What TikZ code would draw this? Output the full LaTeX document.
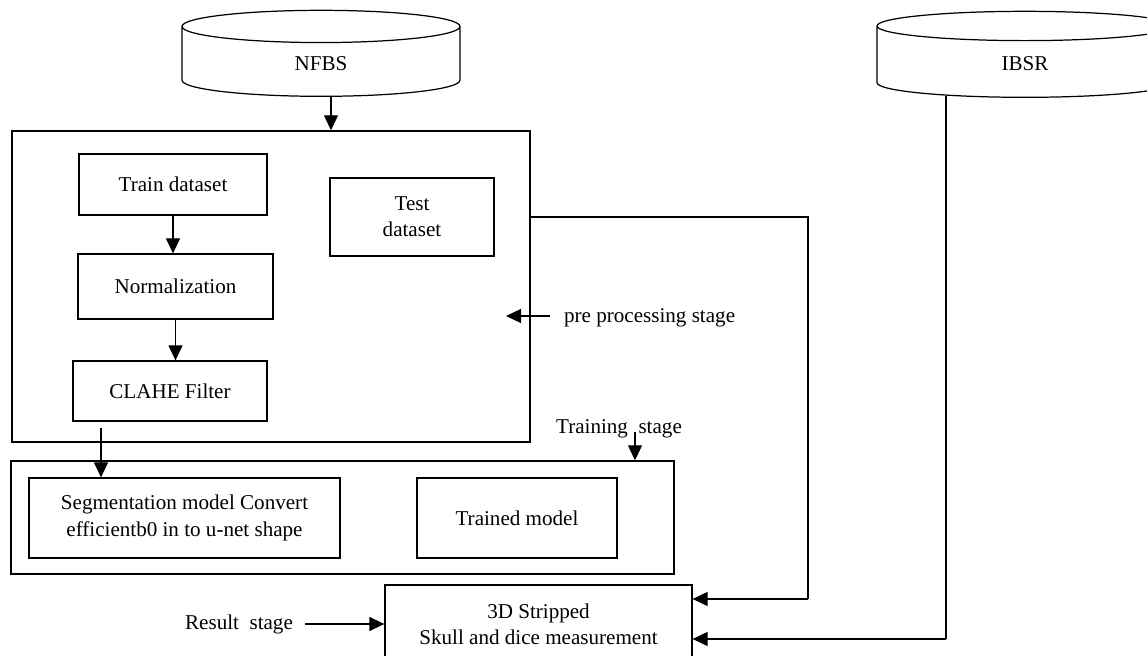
\documentclass[tikz,border=0pt]{standalone}
\usepackage{fontspec}
\setmainfont{Liberation Serif}
\usetikzlibrary{shapes.geometric, arrows.meta, positioning, calc}

\begin{document}
\begin{tikzpicture}[
    box/.style={rectangle, draw, line width=0.7pt, align=center, inner sep=2pt, font=\fontsize{12}{15}\selectfont},
    stagebox/.style={rectangle, draw, line width=0.8pt},
    dbnode/.style={cylinder, shape border rotate=90, aspect=0.5, draw, line width=0.7pt, minimum width=5.56cm, minimum height=1.72cm, font=\fontsize{12}{15}\selectfont},
    lbl/.style={font=\fontsize{12}{15}\selectfont, inner sep=1pt},
    arr/.style={-{Triangle[length=0.3cm, width=0.28cm]}, line width=0.7pt},
    wire/.style={line width=0.7pt},
]
    \clip (0,0) rectangle (22.94,13.1);

    % data sources
    \node[dbnode] (nfbs) at (6.42,11.82) {NFBS};
    \node[dbnode, minimum width=5.92cm] (ibsr) at (20.50,11.82) {IBSR};

    % pre processing stage
    \node[stagebox, minimum width=10.36cm, minimum height=6.22cm] (pre) at (5.42,7.37) {};
    \node[box, minimum width=3.76cm, minimum height=1.22cm] (train) at (3.46,9.41) {Train dataset};
    \node[box, minimum width=3.90cm, minimum height=1.30cm] (norm) at (3.51,7.37) {Normalization};
    \node[box, minimum width=3.88cm, minimum height=1.20cm] (clahe) at (3.40,5.28) {CLAHE Filter};
    \node[box, minimum width=3.28cm, minimum height=1.56cm] (test) at (8.24,8.76) {Test\\dataset};

    % training stage
    \node[stagebox, minimum width=13.26cm, minimum height=2.26cm] (trainst) at (6.85,2.75) {};
    \node[box, minimum width=6.22cm, minimum height=1.60cm] (seg) at (3.69,2.74) {Segmentation model Convert\\efficientb0 in to u-net shape};
    \node[box, minimum width=4.00cm, minimum height=1.60cm] (model) at (10.34,2.74) {Trained model};

    % result stage
    \node[box, minimum width=6.14cm, minimum height=1.58cm] (res) at (10.77,0.61) {3D Stripped\\Skull and dice measurement};

    % stage labels
    \node[lbl, anchor=west] (prelbl) at (11.24,6.74) {pre processing stage};
    \node[lbl] (trainlbl) at (12.38,4.52) {Training\ \ stage};
    \node[lbl] (reslbl) at (4.78,0.62) {Result\ \ stage};

    \coordinate (prearr) at (11.00,6.78);
    \coordinate (trainarr) at (12.70,4.46);
    \coordinate (clahearr) at (2.02,4.54);
    \coordinate (testbend) at (16.16,1.12);
    \coordinate (ibsrbend) at (18.92,0.32);

    % connectors
    \draw[arr] ([xshift=0.2cm]nfbs.south) -- ([xshift=0.2cm]nfbs.south |- pre.north);
    \draw[arr] (train.south) -- (train.south |- norm.north);
    \draw[arr] (norm.south) -- (norm.south |- clahe.north);
    \draw[arr] (clahearr) -- (clahearr |- seg.north);
    \draw[arr] (prearr) -- ++(-0.88,0);
    \draw[arr] (trainarr) -- (trainarr |- trainst.north);
    \draw[arr] ([xshift=0.2cm]reslbl.east) -- (reslbl.east -| res.west);
    \draw[wire] (pre.east |- test.east) -| (testbend);
    \draw[arr] (testbend) -- (testbend -| res.east);
    \draw[wire] (ibsrbend |- 0,11.18) -- (ibsrbend);
    \draw[arr] (ibsrbend) -- (ibsrbend -| res.east);
\end{tikzpicture}
\end{document}
